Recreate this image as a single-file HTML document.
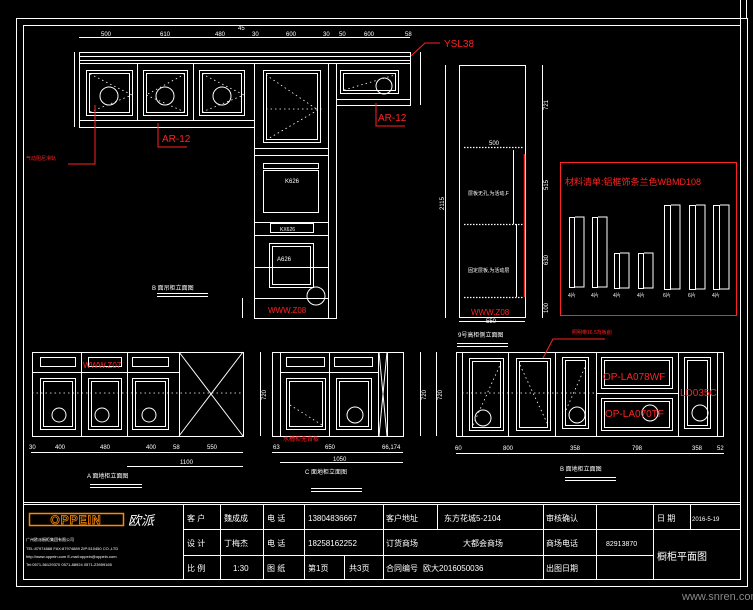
<!DOCTYPE html>
<html><head><meta charset="utf-8"><style>
html,body{margin:0;padding:0;background:#000;width:753px;height:610px;overflow:hidden}
svg{display:block}
text{font-family:"Liberation Sans","Noto Sans CJK SC",sans-serif;fill:#fff}
.r{fill:#f22}
</style></head><body>
<svg width="753" height="610" viewBox="0 0 753 610" xmlns="http://www.w3.org/2000/svg">
<rect width="753" height="610" fill="#000"/>
<g fill="none" stroke="#fff" stroke-width="1" shape-rendering="crispEdges">
<!-- frame -->
<rect x="16.5" y="18.5" width="731" height="568"/>
<rect x="23.5" y="25.5" width="717" height="554"/>
<line x1="746.5" y1="0" x2="746.5" y2="18"/>
<line x1="740.5" y1="0" x2="740.5" y2="25"/>
<!-- title block -->
<line x1="23" y1="502.5" x2="740" y2="502.5"/>
<line x1="23" y1="504.5" x2="740" y2="504.5"/>
<line x1="183" y1="529.5" x2="653" y2="529.5"/>
<line x1="653" y1="529.5" x2="740" y2="529.5"/>
<line x1="183" y1="555.5" x2="653" y2="555.5"/>
<line x1="183.5" y1="504" x2="183.5" y2="579"/>
<line x1="220.5" y1="504" x2="220.5" y2="579"/>
<line x1="263.5" y1="504" x2="263.5" y2="579"/>
<line x1="304.5" y1="504" x2="304.5" y2="579"/>
<line x1="344.5" y1="555" x2="344.5" y2="579"/>
<line x1="383.5" y1="504" x2="383.5" y2="579"/>
<line x1="437.5" y1="504" x2="437.5" y2="529"/>
<line x1="543.5" y1="504" x2="543.5" y2="579"/>
<line x1="596.5" y1="504" x2="596.5" y2="579"/>
<line x1="653.5" y1="504" x2="653.5" y2="579"/>
<line x1="690.5" y1="504" x2="690.5" y2="529"/>
</g>
<rect x="29.5" y="513.5" width="94" height="12" fill="none" stroke="#f80" stroke-width="1.5"/>
<text x="76" y="524" font-size="12" font-weight="bold" text-anchor="middle" style="fill:none;stroke:#f80;stroke-width:0.8" letter-spacing="1">OPPEIN</text>
<text x="128" y="525" font-size="13" font-style="italic">欧派</text>
<g font-size="4">
<text x="26" y="541">广州欧派橱柜集团有限公司</text>
<text x="26" y="550">TEL:87974888 FAX:87974889 ZIP:510450 CO.,LTD</text>
<text x="26" y="558">http://www.oppein.com E-mail:oppein@oppein.com</text>
<text x="26" y="566">Tel:0571-56129370 0571-88924 0571-23959165</text>
</g>
<g font-size="8">
<text x="187" y="521">客 户</text><text x="224" y="521">魏成成</text><text x="267" y="521">电 话</text><text x="308" y="521">13804836667</text>
<text x="386" y="521">客户地址</text><text x="444" y="521">东方花城5-2104</text><text x="546" y="521">审核确认</text>
<text x="657" y="521">日 期</text><text x="692" y="521" font-size="6">2016-5-19</text>
<text x="187" y="546">设 计</text><text x="224" y="546">丁梅杰</text><text x="267" y="546">电 话</text><text x="308" y="546">18258162252</text>
<text x="386" y="546">订货商场</text><text x="463" y="546">大都会商场</text><text x="546" y="546">商场电话</text><text x="606" y="546" font-size="7">82913870</text>
<text x="657" y="560" font-size="10">橱柜平面图</text>
<text x="187" y="571">比 例</text><text x="233" y="571">1:30</text><text x="267" y="571">图 纸</text><text x="308" y="571">第1页</text><text x="349" y="571">共3页</text>
<text x="386" y="571">合同编号 </text><text x="423" y="571">欧大2016050036</text><text x="546" y="571">出图日期</text>
</g>
<text x="682" y="600" font-size="11" style="fill:#888">www.snren.com</text>

<g fill="none" stroke="#fff" stroke-width="1" shape-rendering="crispEdges">
<!-- B upper elevation -->
<line x1="79" y1="37.5" x2="410" y2="37.5"/>
<rect x="79.5" y="52.5" width="331" height="11"/>
<line x1="79" y1="56.5" x2="410" y2="56.5"/><line x1="79" y1="60.5" x2="410" y2="60.5"/>
<line x1="74.5" y1="52" x2="74.5" y2="127"/>
<rect x="79.5" y="63.5" width="175" height="64"/>
<line x1="79" y1="120.5" x2="254" y2="120.5"/>
<line x1="137.5" y1="63" x2="137.5" y2="120"/><line x1="193.5" y1="63" x2="193.5" y2="120"/>
<rect x="86.5" y="70.5" width="46" height="45"/><rect x="89.5" y="73.5" width="40" height="39"/>
<rect x="143.5" y="70.5" width="44" height="45"/><rect x="146.5" y="73.5" width="38" height="39"/>
<rect x="199.5" y="70.5" width="45" height="45"/><rect x="202.5" y="73.5" width="39" height="39"/>
<!-- tall -->
<rect x="254.5" y="63.5" width="74" height="255"/>
<rect x="328.5" y="63.5" width="8" height="255"/>
<rect x="263.5" y="70.5" width="57" height="72"/><rect x="266.5" y="73.5" width="51" height="66"/>
<line x1="254" y1="148.5" x2="328" y2="148.5"/><line x1="254" y1="155.5" x2="328" y2="155.5"/>
<rect x="263.5" y="163.5" width="55" height="5"/>
<rect x="263.5" y="170.5" width="55" height="42"/>
<line x1="254" y1="222.5" x2="328" y2="222.5"/><line x1="254" y1="235.5" x2="328" y2="235.5"/>
<rect x="270.5" y="223.5" width="43" height="9"/>
<rect x="269.5" y="243.5" width="44" height="44"/><rect x="272.5" y="246.5" width="38" height="38"/>
<line x1="254" y1="267.5" x2="328" y2="267.5"/>
<line x1="254" y1="298.5" x2="328" y2="298.5"/>
<!-- right upper -->
<rect x="336.5" y="63.5" width="74" height="42"/>
<line x1="336" y1="99.5" x2="410" y2="99.5"/>
<rect x="340.5" y="70.5" width="58" height="23"/><rect x="343.5" y="73.5" width="52" height="17"/>
<line x1="420.5" y1="52" x2="420.5" y2="105"/>
<line x1="157" y1="293.5" x2="208" y2="293.5"/><line x1="157" y1="296.5" x2="208" y2="296.5"/>
<line x1="242.5" y1="298" x2="242.5" y2="318"/>
</g>
<g fill="none" stroke="#fff" stroke-width="1">
<circle cx="109" cy="96" r="9"/><circle cx="165" cy="96" r="9"/><circle cx="222" cy="96" r="9"/><circle cx="384" cy="86" r="8"/><circle cx="316" cy="296" r="9"/>
</g>
<g fill="none" stroke="#fff" stroke-width="0.8" stroke-dasharray="1.5,3">
<line x1="266" y1="75" x2="318" y2="110"/><line x1="266" y1="140" x2="318" y2="110"/><line x1="266" y1="109" x2="322" y2="109"/>
<line x1="90" y1="74" x2="132" y2="95"/><line x1="90" y1="112" x2="132" y2="95"/>
<line x1="185" y1="74" x2="146" y2="95"/><line x1="185" y1="112" x2="146" y2="95"/>
<line x1="202" y1="74" x2="244" y2="95"/><line x1="202" y1="112" x2="244" y2="95"/>
<line x1="344" y1="90" x2="395" y2="75"/>
</g>
<g font-size="6">
<text x="101" y="36">500</text><text x="160" y="36">610</text><text x="215" y="36">480</text><text x="238" y="30">45</text><text x="252" y="36">30</text><text x="286" y="36">600</text><text x="323" y="36">30</text><text x="339" y="36">50</text><text x="364" y="36">600</text><text x="405" y="36">58</text>
<text x="285" y="183">K626</text><text x="277" y="261">A626</text><text x="280" y="231" font-size="5">KX626</text>
<text x="152" y="290" font-size="6">B 面吊柜立面图</text>
</g>
<g font-size="8" class="r">
<text x="162" y="142" class="r" font-size="10">AR-12</text>
<text x="378" y="121" class="r" font-size="10">AR-12</text>
<text x="444" y="47" class="r" font-size="10">YSL38</text>
<text x="26" y="160" class="r" font-size="5">气动阻尼滑轨</text>
<text x="268" y="313" class="r" font-size="8">WWW.Z08</text>
</g>
<g fill="none" stroke="#f22" stroke-width="1">
<polyline points="158,123 158,147 187,147"/>
<polyline points="376,103 376,126 405,126"/>
<polyline points="411,56 425,43 440,43"/>
<polyline points="95,105 95,164 68,164"/>
</g>

<!-- side view -->
<g fill="none" stroke="#fff" stroke-width="1" shape-rendering="crispEdges">
<rect x="459.5" y="65.5" width="66" height="252"/>
<line x1="445.5" y1="65" x2="445.5" y2="318"/>
<line x1="542.5" y1="65" x2="542.5" y2="318"/>
<line x1="459" y1="321.5" x2="525" y2="321.5"/>
<line x1="457" y1="343.5" x2="508" y2="343.5"/><line x1="457" y1="346.5" x2="508" y2="346.5"/>
<line x1="513.5" y1="150" x2="513.5" y2="224"/><line x1="516.5" y1="224" x2="516.5" y2="297"/>
</g>
<line x1="524.5" y1="154" x2="524.5" y2="297" stroke="#f22" stroke-width="1.5"/>
<g stroke="#fff" stroke-width="1.2" stroke-dasharray="1.5,1.5">
<line x1="464" y1="147.5" x2="524" y2="147.5"/><line x1="464" y1="224.5" x2="524" y2="224.5"/><line x1="464" y1="297.5" x2="524" y2="297.5"/>
</g>
<g font-size="6">
<text x="489" y="145">500</text><text x="468" y="195" font-size="5">层板无孔,为活动,F</text><text x="468" y="272" font-size="5">固定层板,为活动层</text>
<text x="486" y="323">550</text><text x="458" y="337">9号高柜侧立面图</text>
<text transform="translate(444,210) rotate(-90)">2115</text>
<text transform="translate(548,110) rotate(-90)">721</text>
<text transform="translate(548,190) rotate(-90)">515</text>
<text transform="translate(548,265) rotate(-90)">630</text>
<text transform="translate(548,313) rotate(-90)">100</text>
</g>
<text x="471" y="315" class="r" font-size="8">WWW.Z08</text>
<!-- red box -->
<rect x="560.5" y="162.5" width="176" height="153" fill="none" stroke="#f22" stroke-width="1"/>
<text x="565" y="185" class="r" font-size="9">材料清单:铝框饰条兰色WBMD108</text>
<g fill="none" stroke="#fff" stroke-width="1" shape-rendering="crispEdges">
<rect x="569.5" y="217.5" width="5" height="70"/><rect x="592.5" y="217.5" width="5" height="70"/>
<rect x="614.5" y="253.5" width="5" height="35"/><rect x="638.5" y="253.5" width="5" height="35"/>
<rect x="664.5" y="205.5" width="6" height="84"/><rect x="689.5" y="205.5" width="6" height="84"/>
<rect x="713.5" y="205.5" width="6" height="84"/>
<polyline points="575,217 584,217 584,287 575,287"/><polyline points="598,217 607,217 607,287 598,287"/>
<polyline points="620,253 629,253 629,288 620,288"/><polyline points="644,253 653,253 653,288 644,288"/>
<polyline points="671,205 680,205 680,289 671,289"/><polyline points="696,205 705,205 705,289 696,289"/>
<polyline points="720,205 729,205 729,289 720,289"/>
</g>
<g font-size="5">
<text x="568" y="297">4片</text><text x="591" y="297">4片</text><text x="613" y="297">4片</text><text x="637" y="297">4片</text><text x="663" y="297">6片</text><text x="688" y="297">6片</text><text x="712" y="297">4片</text>
</g>

<!-- A lower -->
<g fill="none" stroke="#fff" stroke-width="1" shape-rendering="crispEdges">
<rect x="32.5" y="352.5" width="211" height="84"/>
<line x1="32" y1="372.5" x2="179" y2="372.5"/>
<line x1="81.5" y1="352" x2="81.5" y2="436"/><line x1="127.5" y1="352" x2="127.5" y2="436"/><line x1="179.5" y1="352" x2="179.5" y2="436"/>
<rect x="40.5" y="357.5" width="35" height="9"/><rect x="88.5" y="357.5" width="33" height="9"/><rect x="132.5" y="357.5" width="36" height="9"/>
<rect x="40.5" y="378.5" width="35" height="51"/><rect x="43.5" y="381.5" width="29" height="45"/>
<rect x="88.5" y="378.5" width="33" height="51"/><rect x="91.5" y="381.5" width="27" height="45"/>
<rect x="132.5" y="378.5" width="36" height="51"/><rect x="135.5" y="381.5" width="30" height="45"/>
<line x1="31" y1="452.5" x2="243" y2="452.5"/><line x1="127" y1="466.5" x2="243" y2="466.5"/>
<line x1="90" y1="484.5" x2="142" y2="484.5"/><line x1="90" y1="487.5" x2="142" y2="487.5"/>
<!-- C lower -->
<rect x="272.5" y="352.5" width="131" height="84"/>
<line x1="280.5" y1="352" x2="280.5" y2="436"/><line x1="378.5" y1="352" x2="378.5" y2="436"/><line x1="387.5" y1="352" x2="387.5" y2="436"/>
<line x1="329.5" y1="352" x2="329.5" y2="436"/>
<line x1="280" y1="372.5" x2="378" y2="372.5"/>
<rect x="286.5" y="357.5" width="38" height="9"/><rect x="334.5" y="357.5" width="38" height="9"/>
<rect x="286.5" y="378.5" width="39" height="51"/><rect x="289.5" y="381.5" width="33" height="45"/>
<rect x="336.5" y="378.5" width="35" height="51"/><rect x="339.5" y="381.5" width="29" height="45"/>
<line x1="260.5" y1="352" x2="260.5" y2="436"/><line x1="420.5" y1="352" x2="420.5" y2="436"/><line x1="436.5" y1="352" x2="436.5" y2="436"/>
<line x1="272" y1="452.5" x2="403" y2="452.5"/><line x1="280" y1="462.5" x2="403" y2="462.5"/>
<line x1="311" y1="488.5" x2="362" y2="488.5"/><line x1="311" y1="491.5" x2="362" y2="491.5"/>
<!-- B lower -->
<rect x="456.5" y="352.5" width="267" height="84"/>
<line x1="462.5" y1="352" x2="462.5" y2="436"/><line x1="717.5" y1="352" x2="717.5" y2="436"/>
<line x1="508.5" y1="352" x2="508.5" y2="436"/><line x1="555.5" y1="352" x2="555.5" y2="436"/><line x1="596.5" y1="352" x2="596.5" y2="436"/><line x1="678.5" y1="352" x2="678.5" y2="436"/>
<line x1="596" y1="393.5" x2="678" y2="393.5"/>
<rect x="469.5" y="358.5" width="34" height="72"/><rect x="472.5" y="361.5" width="28" height="66"/>
<rect x="516.5" y="358.5" width="34" height="72"/><rect x="519.5" y="361.5" width="28" height="66"/>
<rect x="562.5" y="357.5" width="26" height="71"/><rect x="565.5" y="360.5" width="20" height="65"/>
<rect x="601.5" y="357.5" width="71" height="31"/><rect x="604.5" y="360.5" width="65" height="25"/>
<rect x="601.5" y="398.5" width="71" height="32"/><rect x="604.5" y="401.5" width="65" height="26"/>
<rect x="684.5" y="357.5" width="26" height="71"/><rect x="687.5" y="360.5" width="20" height="65"/>
<line x1="456" y1="453.5" x2="724" y2="453.5"/>
<line x1="565" y1="477.5" x2="616" y2="477.5"/><line x1="565" y1="480.5" x2="616" y2="480.5"/>
</g>
<g fill="none" stroke="#fff" stroke-width="1">
<line x1="179" y1="352" x2="243" y2="436"/><line x1="243" y1="352" x2="179" y2="436"/>
<line x1="379" y1="352" x2="387" y2="436"/><line x1="387" y1="352" x2="379" y2="436"/>
<circle cx="59" cy="415" r="7"/><circle cx="102" cy="415" r="7"/><circle cx="149" cy="415" r="7"/><circle cx="355" cy="415" r="8"/>
<circle cx="483" cy="418" r="8"/><circle cx="577" cy="415" r="8"/><circle cx="650" cy="413" r="8"/><circle cx="700" cy="413" r="8"/>
</g>
<g fill="none" stroke="#fff" stroke-width="0.8" stroke-dasharray="1.5,3">
<line x1="32" y1="393" x2="243" y2="393"/><line x1="462" y1="393" x2="596" y2="393"/>
<line x1="473" y1="425" x2="500" y2="365"/><line x1="520" y1="365" x2="548" y2="425"/><line x1="566" y1="410" x2="586" y2="365"/>
<line x1="290" y1="405" x2="322" y2="425"/>
</g>
<g font-size="6">
<text x="29" y="449">30</text><text x="55" y="449">400</text><text x="100" y="449">480</text><text x="146" y="449">400</text><text x="173" y="449">58</text><text x="207" y="449">550</text>
<text x="180" y="464">1100</text><text x="87" y="478">A 面地柜立面图</text>
<text x="273" y="449">63</text><text x="325" y="449">650</text><text x="382" y="449">66,174</text><text x="333" y="461">1050</text>
<text x="305" y="474">C 面地柜立面图</text>
<text transform="translate(266,400) rotate(-90)">720</text>
<text transform="translate(426,400) rotate(-90)">720</text>
<text transform="translate(442,400) rotate(-90)">720</text>
<text x="455" y="450">60</text><text x="503" y="450">800</text><text x="570" y="450">358</text><text x="632" y="450">798</text><text x="692" y="450">358</text><text x="717" y="450">52</text>
<text x="560" y="471">B 面地柜立面图</text>
</g>
<g class="r">
<text x="83" y="368" font-size="8" class="r">WWW.Z07</text>
<text x="283" y="441" font-size="6" class="r">水槽柜无背板</text>
<text x="603" y="380" font-size="10" class="r">OP-LA078WF</text>
<text x="605" y="417" font-size="10" class="r">OP-LA070TF</text>
<text x="680" y="396" font-size="10" class="r">LD035C</text>
<text x="572" y="334" font-size="5" class="r">照明带16.5背板削</text>
</g>
<polyline points="543,358 553,339 605,339" fill="none" stroke="#f22" stroke-width="1"/>
</svg>
</body></html>
